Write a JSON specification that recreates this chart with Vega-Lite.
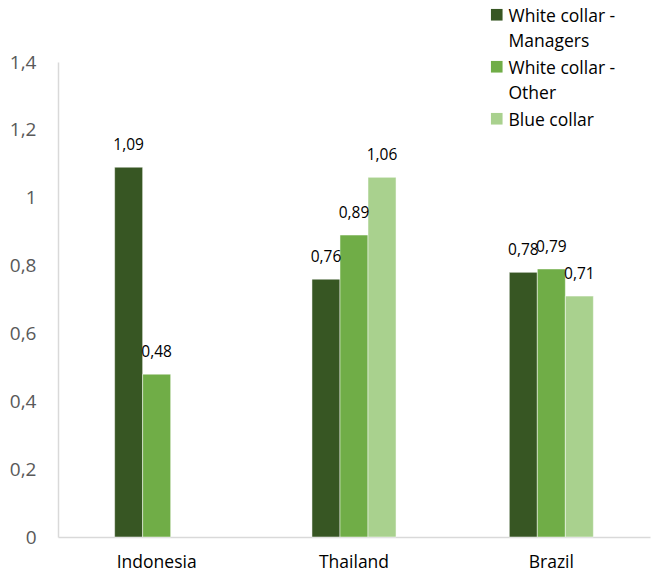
{
  "$schema": "https://vega.github.io/schema/vega-lite/v6.json",
  "autosize": {"type": "none"},
  "width": 592,
  "height": 475,
  "padding": {"left": 58, "top": 62, "right": 1, "bottom": 48},
  "background": "white",
  "config": {
    "view": {"stroke": null},
    "font": "Open Sans",
    "style": {"guide-label": {"lineHeight": 25, "dy": -7}},
    "locale": {"number": {"decimal": ",", "thousands": ".", "grouping": [3], "currency": ["", " €"]}}
  },
  "data": {
    "values": [
      {"country": "Indonesia", "group": "White collar - Managers", "value": 1.09},
      {"country": "Indonesia", "group": "White collar - Other", "value": 0.48},
      {"country": "Thailand", "group": "White collar - Managers", "value": 0.76},
      {"country": "Thailand", "group": "White collar - Other", "value": 0.89},
      {"country": "Thailand", "group": "Blue collar", "value": 1.06},
      {"country": "Brazil", "group": "White collar - Managers", "value": 0.78},
      {"country": "Brazil", "group": "White collar - Other", "value": 0.79},
      {"country": "Brazil", "group": "Blue collar", "value": 0.71}
    ]
  },
  "encoding": {
    "x": {
      "field": "country", "type": "nominal", "sort": ["Indonesia", "Thailand", "Brazil"],
      "scale": {"paddingInner": 0.574, "paddingOuter": 0.287},
      "axis": {"title": null, "labelAngle": 0, "ticks": false, "domainColor": "#d9d9d9", "domainWidth": 1.5, "labelFontSize": 17.5, "labelColor": "#000000", "labelPadding": 23, "labelFont": "Open Sans"}
    },
    "xOffset": {"field": "group", "type": "nominal", "sort": ["White collar - Managers", "White collar - Other", "Blue collar"], "scale": {"domain": ["White collar - Managers", "White collar - Other", "Blue collar"]}},
    "y": {
      "field": "value", "type": "quantitative",
      "scale": {"domain": [0, 1.4], "nice": false},
      "axis": {"title": null, "grid": false, "ticks": false, "values": [0, 0.2, 0.4, 0.6, 0.8, 1, 1.2, 1.4], "format": "~g", "domainColor": "#d9d9d9", "domainWidth": 1.5, "labelFontSize": 19, "labelColor": "#595959", "labelPadding": 22, "labelOffset": 7, "labelFont": "Open Sans"}
    }
  },
  "layer": [
    {
      "mark": {"type": "bar", "stroke": "white", "strokeWidth": 0.5},
      "encoding": {
        "color": {
          "field": "group", "type": "nominal",
          "scale": {"domain": ["White collar - Managers", "White collar - Other", "Blue collar"], "range": ["#375623", "#70ad47", "#a9d18e"]},
          "legend": {
            "title": null, "orient": "none", "legendX": 430, "legendY": -56,
            "symbolType": "square", "symbolSize": 135, "symbolStrokeWidth": 0, "symbolOpacity": 1,
            "labelFontSize": 17.5, "labelColor": "#000000", "labelFont": "Open Sans", "labelLimit": 300,
            "labelBaseline": "top", "labelOffset": 3,
            "labelExpr": "datum.label == 'White collar - Managers' ? ['White collar -', 'Managers'] : datum.label == 'White collar - Other' ? ['White collar -', 'Other'] : datum.label",
            "rowPadding": 7
          }
        }
      }
    },
    {
      "mark": {"type": "text", "dy": -22, "fontSize": 15.5, "color": "#000000", "font": "Open Sans"},
      "encoding": {
        "text": {"field": "value", "type": "quantitative", "format": ".2f"}
      }
    }
  ]
}
